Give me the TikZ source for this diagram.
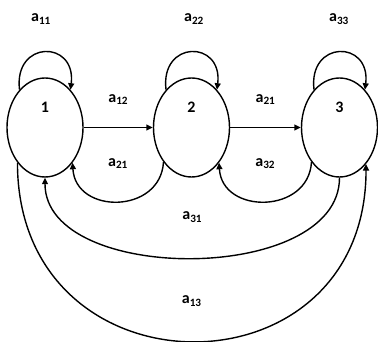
\documentclass[tikz,border=0pt]{standalone}
\usepackage{amsmath}
\usepackage{fontspec}
\setmainfont{Carlito}
\usetikzlibrary{arrows.meta, shapes.geometric, positioning, calc}

\begin{document}
\begin{tikzpicture}[x=1pt, y=1pt, line width=1.4pt,
    statenode/.style={draw, ellipse, minimum width=76pt, minimum height=99pt, inner sep=0pt},
    arr/.style={-{Triangle[length=6.5pt, width=6pt]}},
    lbl/.style={font=\fontsize{16}{19}\selectfont\bfseries, inner sep=1pt}]
    \useasboundingbox (0,0) rectangle (378,-342);

    % The three states
    \node[statenode, label={[lbl, yshift=20pt]center:1}] (s1) at (45,-127.5) {};
    \node[statenode, label={[lbl, yshift=20pt]center:2}] (s2) at (191.5,-127.5) {};
    \node[statenode, label={[lbl, yshift=20pt]center:3}] (s3) at (339.5,-127.5) {};

    % Self loops
    \draw[arr] (s1.124) .. controls +(-6,50) and +(6,50) .. (s1.56);
    \draw[arr] (s2.124) .. controls +(-6,50) and +(6,50) .. (s2.56);
    \draw[arr] (s3.124) .. controls +(-6,50) and +(6,50) .. (s3.56);
    \node[lbl] (l11) at (41,-19) {a$_{\text{11}}$};
    \node[lbl] (l22) at (194,-19) {a$_{\text{22}}$};
    \node[lbl] (l33) at (339,-19) {a$_{\text{33}}$};

    % Forward arrows
    \draw[arr] (s1.east) -- (s2.west) node[lbl, midway, yshift=28pt] (l12) {a$_{\text{12}}$};
    \draw[arr] (s2.east) -- (s3.west) node[lbl, midway, yshift=28pt] (l23) {a$_{\text{21}}$};

    % Backward arcs
    \draw[arr] (s2.231) .. controls +(-3,-52) and +(3,-52) .. (s1.308)
        node[lbl, midway, yshift=38pt] (l21) {a$_{\text{21}}$};
    \draw[arr] (s3.231) .. controls +(-3,-52) and +(3,-52) .. (s2.308)
        node[lbl, midway, yshift=38pt] (l32) {a$_{\text{32}}$};
    \draw[arr] (s3.south) .. controls +(0,-107) and +(0,-107) .. (s1.south)
        node[lbl, midway, yshift=41pt] (l31) {a$_{\text{31}}$};
    \draw[arr] (s1.232) .. controls +(0,-237) and +(0,-237) .. (s3.306)
        node[lbl, midway, yshift=40pt] (l13) {a$_{\text{13}}$};
\end{tikzpicture}
\end{document}
